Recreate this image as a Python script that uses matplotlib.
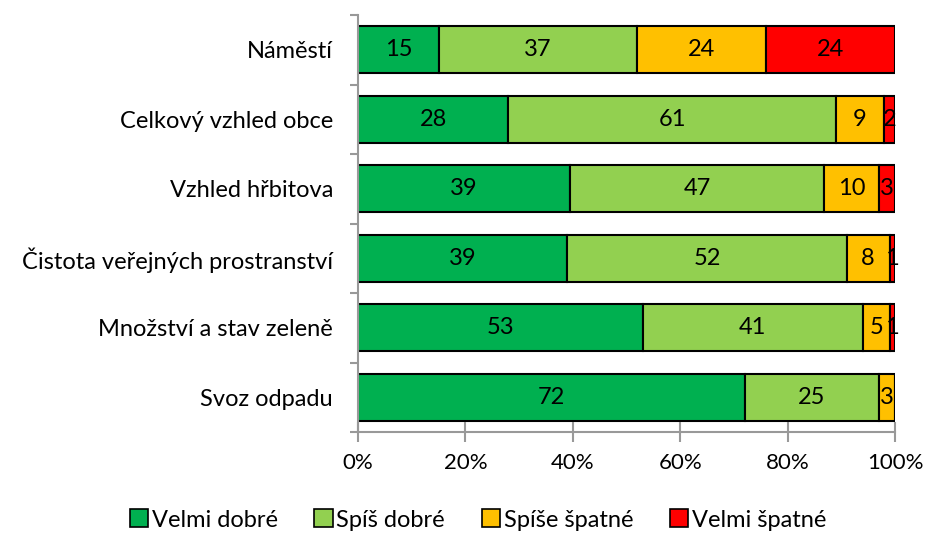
import matplotlib
matplotlib.use("Agg")
import matplotlib.pyplot as plt
import numpy as np
from matplotlib.ticker import FixedLocator, FuncFormatter
from matplotlib.patches import Patch

plt.rcParams['font.family'] = ['Lato', 'DejaVu Sans']

categories = ["Náměstí", "Celkový vzhled obce", "Vzhled hřbitova",
              "Čistota veřejných prostranství", "Množství a stav zeleně", "Svoz odpadu"]
series_names = ["Velmi dobré", "Spíš dobré", "Spíše špatné", "Velmi špatné"]
velmi_dobre = [15, 28, 39, 39, 53, 72]
spis_dobre = [37, 61, 47, 52, 41, 25]
spise_spatne = [24, 9, 10, 8, 5, 3]
velmi_spatne = [24, 2, 3, 1, 1, 0]
colors = ["#00B050", "#92D050", "#FFC000", "#FF0000"]

data = np.array([velmi_dobre, spis_dobre, spise_spatne, velmi_spatne], dtype=float)
totals = data.sum(axis=0)
shares = data / totals * 100

fig = plt.figure(figsize=(9.28, 5.33), dpi=100)
ax = fig.add_axes([358/928, 1 - 432/533, (895-358)/928, (432-15)/533])

y = np.arange(len(categories))
left = np.zeros(len(categories))
for i, name in enumerate(series_names):
    bars = ax.barh(y, shares[i], left=left, height=0.67, color=colors[i],
                   edgecolor="black", linewidth=1.5, label=name)
    for j, b in enumerate(bars):
        v = data[i][j]
        if v > 0:
            ax.text(left[j] + shares[i][j] / 2, y[j], f"{int(v)}",
                    ha="center", va="center", fontsize=17, color="black")
    left += shares[i]

ax.set_xlim(0, 100)
ax.set_ylim(len(categories) - 0.5, -0.5)
ax.set_yticks(y)
ax.set_yticklabels(categories, fontsize=17)
ax.yaxis.set_minor_locator(FixedLocator(np.arange(-0.5, len(categories), 1)))
ax.tick_params(axis="y", which="major", length=0, pad=18)
ax.tick_params(axis="y", which="minor", length=6, width=1.5, color="#999999", direction="out")
ax.set_xticks([0, 20, 40, 60, 80, 100])
ax.xaxis.set_major_formatter(FuncFormatter(lambda v, p: f"{int(v)}%"))
ax.tick_params(axis="x", length=14, width=1.5, color="#999999", direction="inout", labelsize=16, pad=8)
for s in ["top", "right"]:
    ax.spines[s].set_visible(False)
for s in ["left", "bottom"]:
    ax.spines[s].set_color("#999999")
    ax.spines[s].set_linewidth(1.5)

handles = [Patch(facecolor=c, edgecolor="black", linewidth=1.2, label=n) for c, n in zip(colors, series_names)]
fig.legend(handles=handles, loc="center", bbox_to_anchor=(0.515, 1 - 520/533), ncol=4,
           frameon=False, fontsize=17, handlelength=0.78, handleheight=0.78,
           handletextpad=0.15, columnspacing=1.55)

fig.savefig("out.png", dpi=100)
